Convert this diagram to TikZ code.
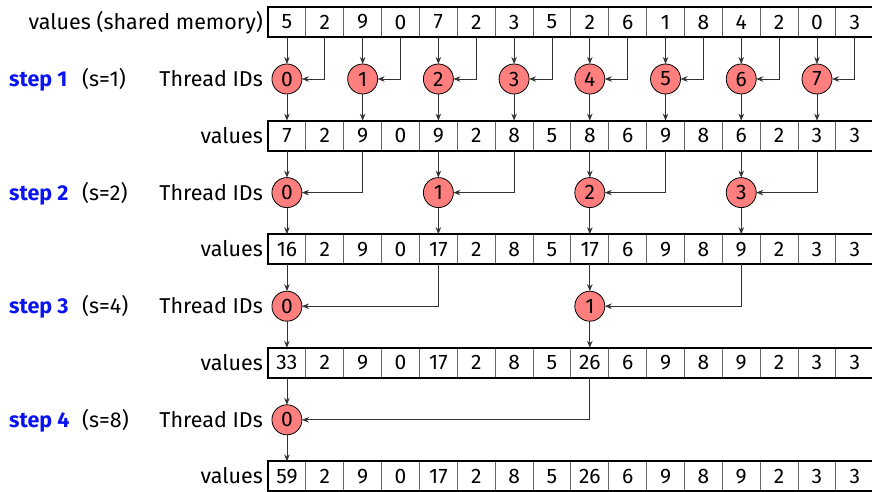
\documentclass[tikz,border=0pt]{standalone}
\usepackage{fontspec}
\setmainfont{Fira Sans}
\usetikzlibrary{arrows.meta}
\definecolor{thr}{HTML}{FF7F7F}
\definecolor{stepblue}{HTML}{0A14F0}
\definecolor{divgray}{HTML}{666666}
\definecolor{conn}{HTML}{333333}
\begin{document}
\begin{tikzpicture}[x=1pt,y=1pt,
  txt/.style={font=\fontsize{21}{25}\selectfont},
  ltxt/.style={font=\fontsize{21.5}{26}\selectfont},
  cell/.style={txt, draw=divgray, line width=0.9pt, minimum width=37.86pt, minimum height=30pt, inner sep=0pt, outer sep=0pt},
  thread/.style={txt, circle, draw=black, line width=0.8pt, fill=thr, minimum size=30pt, inner sep=0pt, outer sep=0pt},
  lbl/.style={ltxt, inner sep=0pt, anchor=base east},
  steplbl/.style={inner sep=0pt, anchor=base west, font=\fontsize{21.5}{26}\selectfont\bfseries, text=stepblue},
  slbl/.style={ltxt, inner sep=0pt, anchor=base west},
  arr/.style={draw=conn, line width=0.8pt, -{Stealth[length=7pt,width=5.5pt]}},
  frame/.style={draw=black, line width=2pt}
]
\useasboundingbox (0,0) rectangle (872,491);
% value rows
\foreach \vals [count=\r from 0] in {
  {5,2,9,0,7,2,3,5,2,6,1,8,4,2,0,3},
  {7,2,9,0,9,2,8,5,8,6,9,8,6,2,3,3},
  {16,2,9,0,17,2,8,5,17,6,9,8,9,2,3,3},
  {33,2,9,0,17,2,8,5,26,6,9,8,9,2,3,3},
  {59,2,9,0,17,2,8,5,26,6,9,8,9,2,3,3}} {
  \foreach \v [count=\i from 0] in \vals {
    \node[cell] (r\r-\i) at ({268+37.86*(\i+0.5)}, {469-113.6*\r}) {\v};
  }
  \draw[frame] (r\r-0.north west) rectangle (r\r-15.south east);
}
% row labels
\node[lbl] (lv0) at (263, 461.5) {values (shared memory)};
\foreach \r in {1,2,3,4} {
  \node[lbl] (lv\r) at (263, {469-113.6*\r-7.5}) {values};
}
% steps
\foreach \k/\s/\n in {1/1/7, 2/2/3, 3/4/1, 4/8/0} {
  \pgfmathsetmacro\cy{412-113.6*(\k-1)}
  \pgfmathtruncatemacro\pr{\k-1}
  \node[lbl] (tid\k) at (263, \cy-7.5) {Thread IDs};
  \node[steplbl] (st\k) at (9, \cy-7.5) {step \k};
  \node[slbl] (sv\k) at (82, \cy-7.5) {(s=\s)};
  \foreach \j in {0,...,\n} {
    \pgfmathtruncatemacro\a{2*\s*\j}
    \pgfmathtruncatemacro\b{\a+\s}
    \node[thread] (t\k-\j) at ({268+37.86*(\a+0.5)}, \cy) {\j};
    \draw[arr] (r\pr-\a.south) -- (t\k-\j.north);
    \draw[arr] (r\pr-\b.south) |- (t\k-\j.east);
    \draw[arr] (t\k-\j.south) -- (r\k-\a.north);
  }
}
\end{tikzpicture}
\end{document}
